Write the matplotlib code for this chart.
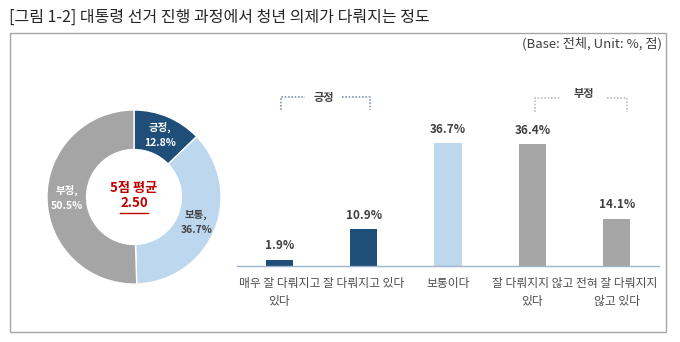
import numpy as np
import matplotlib.pyplot as plt
from matplotlib.patches import Rectangle
from matplotlib.lines import Line2D

plt.rcParams['font.family'] = ['Noto Sans CJK KR', 'DejaVu Sans']

# Share of responses grouped (donut) and by answer (bars)
group_labels = ['긍정', '보통', '부정']
group_values = [12.8, 36.7, 50.5]
group_colors = ['#1F4E79', '#BDD7EE', '#A5A5A5']
group_text_colors = ['white', '#404040', 'white']

categories = ['매우 잘 다뤄지고\n있다', '잘 다뤄지고 있다', '보통이다',
              '잘 다뤄지지 않고\n있다', '전혀 잘 다뤄지지\n않고 있다']
values = [1.9, 10.9, 36.7, 36.4, 14.1]
bar_colors = ['#1F4E79', '#1F4E79', '#BDD7EE', '#A5A5A5', '#A5A5A5']
mean_score = 2.50

W, H = 680, 342
fig = plt.figure(figsize=(W / 100, H / 100), dpi=100)

def fx(px):
    return px / W

def fy(py):
    return 1 - py / H

# title and frame
fig.text(fx(9), fy(17), '[그림 1-2] 대통령 선거 진행 과정에서 청년 의제가 다뤄지는 정도',
         fontsize=11.5, color='#262626', va='center', ha='left')
fig.patches.append(Rectangle((fx(10), fy(332)), fx(656), (332 - 33) / H,
                             transform=fig.transFigure, fill=False,
                             edgecolor='#A6A6A6', linewidth=1.0))
fig.text(fx(662), fy(44), '(Base: 전체, Unit: %, 점)', fontsize=9.5,
         color='#404040', ha='right', va='center')

# donut
cx, cy, r = 134, 197, 90
ax_d = fig.add_axes([fx(cx - r), fy(cy + r), 2 * r / W, 2 * r / H])
outer = 0.967
ring = 0.44
ax_d.pie(group_values, colors=group_colors, startangle=90,
         counterclock=False, radius=outer,
         wedgeprops=dict(width=ring, edgecolor='white', linewidth=1))
ax_d.set_xlim(-1, 1)
ax_d.set_ylim(-1, 1)
ax_d.set_aspect('equal')
ax_d.axis('off')

start = 0.0
mid_r = outer - ring / 2
for lab, val, tc in zip(group_labels, group_values, group_text_colors):
    mid = start + val / 2
    ang = np.deg2rad(90 - mid / 100 * 360)
    ax_d.text(mid_r * np.cos(ang), mid_r * np.sin(ang), f'{lab},\n{val}%',
              ha='center', va='center', fontsize=7.5, color=tc,
              fontweight='bold', linespacing=1.6)
    start += val

ax_d.text(0, 0.1, '5점 평균', ha='center', va='center', fontsize=9.5,
          color='#C00000', fontweight='bold')
ax_d.text(0, -0.07, f'{mean_score:.2f}', ha='center', va='center', fontsize=9.5,
          color='#C00000', fontweight='bold')
ax_d.plot([-0.16, 0.16], [-0.175, -0.175], color='#C00000', linewidth=1)

# bar chart
x0, x1, base = 237, 659, 266
ymax = 40
px_per = 3.35
ax_b = fig.add_axes([fx(x0), fy(base), (x1 - x0) / W, ymax * px_per / H])
x = np.arange(len(values))
ax_b.bar(x, values, width=0.32, color=bar_colors)
ax_b.set_xlim(-0.5, len(values) - 0.5)
ax_b.set_ylim(0, ymax)
for xi, v in zip(x, values):
    ax_b.text(xi, v + 2.2, f'{v}%', ha='center', va='bottom', fontsize=8.5,
              fontweight='bold', color='#404040')
for side in ['top', 'right', 'left']:
    ax_b.spines[side].set_visible(False)
ax_b.spines['bottom'].set_color('#9DB4CC')
ax_b.spines['bottom'].set_linewidth(1)
ax_b.set_yticks([])
ax_b.set_xticks(x)
ax_b.set_xticklabels(categories, fontsize=8.5, color='#4D4D4D', linespacing=1.5)
ax_b.tick_params(axis='x', length=0, pad=8)

# group brackets above bars
def bracket(xl, xr, gap_l, gap_r, ytop, ybot, label, ylab, color):
    kw = dict(transform=fig.transFigure, color=color, linewidth=1.2,
              linestyle=(0, (1, 1)))
    fig.lines.append(Line2D([fx(xl), fx(xl), fx(gap_l)],
                            [fy(ybot), fy(ytop), fy(ytop)], **kw))
    fig.lines.append(Line2D([fx(gap_r), fx(xr), fx(xr)],
                            [fy(ytop), fy(ytop), fy(ybot)], **kw))
    fig.text(fx((gap_l + gap_r) / 2), fy(ylab), label, ha='center',
             va='center', fontsize=8, fontweight='bold', color='#404040')

bracket(281, 370, 305, 342, 97, 110, '긍정', 98, '#8497B0')
bracket(535, 627, 560, 607, 98, 112, '부정', 94, '#BFBFBF')

fig.savefig('out.png', dpi=100)
